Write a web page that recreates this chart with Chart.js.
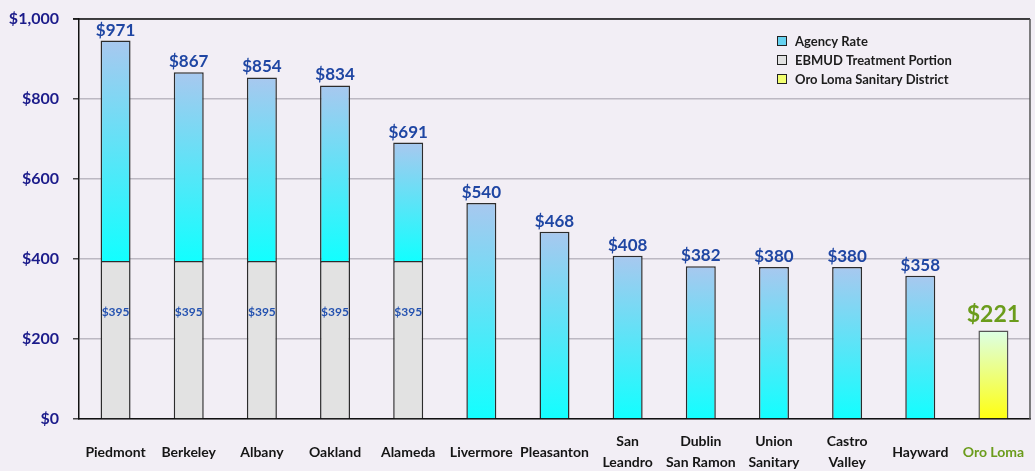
<!DOCTYPE html>
<html>
<head>
<meta charset="utf-8">
<script src="https://cdn.jsdelivr.net/npm/chart.js@4.4.1/dist/chart.umd.min.js"></script>
<style>
  html, body { margin: 0; padding: 0; background: #f2eef5; overflow: hidden; }
  canvas { display: block; }
</style>
</head>
<body>
<canvas id="rates" width="1035" height="471"></canvas>
<script>
  // Agencies, left to right.
  var agencies = [
    'Piedmont', 'Berkeley', 'Albany', 'Oakland', 'Alameda', 'Livermore', 'Pleasanton',
    ['San', 'Leandro'], ['Dublin', 'San Ramon'], ['Union', 'Sanitary'], ['Castro', 'Valley'],
    'Hayward', 'Oro Loma'
  ];

  // EBMUD treatment portion (bottom of the stack).
  var ebmud = [395, 395, 395, 395, 395, null, null, null, null, null, null, null, null];

  // Agency rate on top of the EBMUD portion.
  var agencyRate = [551, 472, 459, 439, 296, 540, 468, 408, 382, 380, 380, 358, null];

  // Oro Loma Sanitary District.
  var oroLoma = [null, null, null, null, null, null, null, null, null, null, null, null, 221];

  // Printed totals above the bars.
  var totals = ['$971', '$867', '$854', '$834', '$691', '$540', '$468', '$408', '$382', '$380', '$380', '$358', '$221'];
  var ebmudLabels = ['$395', '$395', '$395', '$395', '$395'];

  var yTicks = [0, 200, 400, 600, 800, 1000];

  var NAVY = '#1b1b8a';
  var LABEL_BLUE = '#1f46a3';
  var GREEN = '#6b9c1c';

  function barGradient(ctx, top, bottom, c0, c1) {
    var chart = ctx.chart;
    if (!chart.chartArea || ctx.type !== 'data') {
      return c1;
    }
    var y = chart.scales.y;
    var g = chart.ctx.createLinearGradient(0, y.getPixelForValue(top), 0, y.getPixelForValue(bottom));
    g.addColorStop(0, c0);
    g.addColorStop(1, c1);
    return g;
  }

  var agencyFill = function (ctx) {
    var i = ctx.dataIndex;
    var base = ebmud[i] || 0;
    return barGradient(ctx, base + (agencyRate[i] || 0), base, '#a8c8ef', '#12ffff');
  };

  var oroFill = function (ctx) {
    var i = ctx.dataIndex;
    return barGradient(ctx, oroLoma[i] || 0, 0, '#dcffe6', '#ffff10');
  };

  // Scales add label overflow to the layout; drop it so the plot box is fixed.
  function noOverflow(scale) {
    scale.paddingTop = 0;
    scale.paddingBottom = 0;
    scale.paddingLeft = 0;
    scale.paddingRight = 0;
  }

  // Page background and plot frame.
  var framePlugin = {
    id: 'frame',
    beforeDraw: function (chart) {
      var c = chart.ctx;
      c.save();
      c.fillStyle = '#f2eef5';
      c.fillRect(0, 0, chart.width, chart.height);
      c.restore();
    },
    afterDraw: function (chart) {
      var c = chart.ctx;
      var a = chart.chartArea;
      c.save();
      c.lineWidth = 1.5;
      c.strokeStyle = '#111';
      c.beginPath();
      c.moveTo(a.left - 6, a.top);
      c.lineTo(a.right, a.top);
      c.stroke();
      c.strokeStyle = '#555';
      c.beginPath();
      c.moveTo(a.right, a.top);
      c.lineTo(a.right, a.bottom);
      c.stroke();
      c.restore();
    }
  };

  // Value labels above bars and inside EBMUD portion.
  var valueLabels = {
    id: 'valueLabels',
    afterDatasetsDraw: function (chart) {
      var c = chart.ctx;
      var ebMeta = chart.getDatasetMeta(0);
      var agMeta = chart.getDatasetMeta(1);
      var oroMeta = chart.getDatasetMeta(2);
      c.save();
      c.textAlign = 'center';
      c.textBaseline = 'bottom';
      totals.forEach(function (txt, i) {
        var el;
        if (oroLoma[i] != null) {
          el = oroMeta.data[i];
          c.font = 'bold 23px Lato';
          c.fillStyle = GREEN;
          c.fillText(txt, el.x, el.y - 5);
        } else {
          el = agMeta.data[i];
          c.font = 'bold 17px Lato';
          c.fillStyle = LABEL_BLUE;
          c.fillText(txt, el.x, el.y - 2);
        }
      });
      c.textBaseline = 'middle';
      c.font = 'bold 12px Lato';
      c.fillStyle = '#2452b0';
      ebmudLabels.forEach(function (txt, i) {
        var el = ebMeta.data[i];
        c.fillText(txt, el.x, el.y + (el.base - el.y) * 0.325);
      });
      c.restore();
    }
  };

  // Legend in the top-right of the plot.
  var legendBox = {
    id: 'legendBox',
    afterDraw: function (chart) {
      var c = chart.ctx;
      var a = chart.chartArea;
      var items = [
        { text: chart.data.datasets[1].label, color: '#66d2f0' },
        { text: chart.data.datasets[0].label, color: '#e2e2e2' },
        { text: chart.data.datasets[2].label, color: '#f2ff70' }
      ];
      c.save();
      c.font = 'bold 13px Lato';
      c.textBaseline = 'middle';
      c.textAlign = 'left';
      items.forEach(function (it, k) {
        var y = a.top + 22 + k * 19;
        var x = a.left + 698;
        c.fillStyle = it.color;
        c.fillRect(x, y - 5, 10, 10);
        c.strokeStyle = '#222';
        c.lineWidth = 1;
        c.strokeRect(x + 0.5, y - 4.5, 9, 9);
        c.fillStyle = '#1c1c1c';
        c.fillText(it.text, x + 18, y + 1);
      });
      c.restore();
    }
  };

  var barStyle = {
    borderColor: '#2c2c2c',
    borderWidth: 1.5,
    barPercentage: 0.41,
    categoryPercentage: 1.0
  };

  new Chart(document.getElementById('rates'), {
    type: 'bar',
    data: {
      labels: agencies,
      datasets: [
        Object.assign({ label: 'EBMUD Treatment Portion', data: ebmud, backgroundColor: '#e2e2e2' }, barStyle),
        Object.assign({ label: 'Agency Rate', data: agencyRate, backgroundColor: agencyFill }, barStyle),
        Object.assign({ label: 'Oro Loma Sanitary District', data: oroLoma, backgroundColor: oroFill }, barStyle, { borderColor: '#555' })
      ]
    },
    options: {
      responsive: false,
      maintainAspectRatio: false,
      animation: false,
      devicePixelRatio: 1,
      layout: {
        padding: { top: 19, right: 5, left: 0, bottom: 0 }
      },
      scales: {
        x: {
          stacked: true,
          grid: { display: false },
          border: { color: '#111', width: 1.5 },
          ticks: {
            padding: 14,
            crossAlign: 'center',
            maxRotation: 0,
            autoSkip: false,
            font: { family: 'Lato', size: 14, weight: 'bold', lineHeight: 1.57 },
            color: function (ctx) {
              return ctx.index === agencies.length - 1 ? GREEN : '#151515';
            }
          },
          afterFit: function (scale) {
            scale.height = 52;
            noOverflow(scale);
          }
        },
        y: {
          stacked: true,
          min: 0,
          max: 1000,
          afterBuildTicks: function (scale) {
            scale.ticks = yTicks.map(function (v) { return { value: v }; });
          },
          grid: { color: '#bcb8c2', lineWidth: 1.5, tickLength: 6, tickColor: '#444' },
          border: { color: '#111', width: 1.5 },
          ticks: {
            padding: 14,
            color: NAVY,
            font: { family: 'Lato', size: 16, weight: 'bold' },
            callback: function (v) { return '$' + v.toLocaleString('en-US'); }
          },
          afterFit: function (scale) {
            scale.width = 79;
            noOverflow(scale);
          }
        }
      },
      plugins: {
        legend: { display: false },
        tooltip: { enabled: false }
      }
    },
    plugins: [framePlugin, valueLabels, legendBox]
  });
</script>
</body>
</html>
